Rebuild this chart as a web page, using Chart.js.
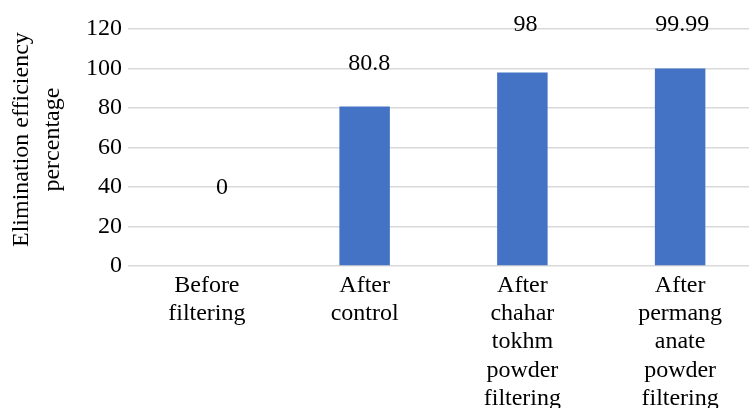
<!DOCTYPE html>
<html>
<head>
<meta charset="utf-8">
<script src="https://cdn.jsdelivr.net/npm/chart.js@4.4.0/dist/chart.umd.min.js"></script>
<style>
  html, body { margin: 0; padding: 0; background: #fff; overflow: hidden; font-family: "Liberation Serif", serif; }
  #wrap { width: 749px; height: 408px; overflow: hidden; position: relative; }
  #box { width: 759px; height: 408px; position: absolute; left: 0; top: 0; }
  #pre { position: absolute; left: -9999px; font-family: "Liberation Serif"; }
</style>
</head>
<body>
<div id="pre">Elimination 0123456789</div>
<div id="wrap"><div id="box"><canvas id="c"></canvas></div></div>
<script>
const categories = [
  ["Before", "filtering"],
  ["After", "control"],
  ["After", "chahar", "tokhm", "powder", "filtering"],
  ["After", "permang", "anate", "powder", "filtering"]
];
const efficiency = [0, 80.8, 98, 99.99];
const valueLabels = ["0", "80.8", "98", "99.99"];
const yTicks = [0, 20, 40, 60, 80, 100, 120];
const yTitle = ["Elimination efficiency", "percentage"];

const FONT = "'Liberation Serif', serif";

const labelPlugin = {
  id: 'valueLabels',
  afterDatasetsDraw(chart, args, opts) {
    const ctx = chart.ctx;
    const meta = chart.getDatasetMeta(0);
    const y = chart.scales.y;
    ctx.save();
    ctx.font = opts.size + 'px ' + FONT;
    ctx.fillStyle = '#000';
    ctx.textAlign = 'center';
    ctx.textBaseline = 'middle';
    meta.data.forEach((bar, i) => {
      ctx.fillText(valueLabels[i], bar.x + opts.dx[i], y.getPixelForValue(opts.at[i]));
    });
    ctx.restore();
  }
};

const yTitlePlugin = {
  id: 'yTitle',
  afterDraw(chart, args, opts) {
    const ctx = chart.ctx;
    const y = chart.scales.y;
    ctx.save();
    ctx.font = opts.size + 'px ' + FONT;
    ctx.fillStyle = '#000';
    ctx.textAlign = 'center';
    ctx.textBaseline = 'middle';
    const cy = y.getPixelForValue(opts.centerValue);
    yTitle.forEach((line, i) => {
      ctx.save();
      ctx.translate(opts.x0 + i * opts.lineGap, cy);
      ctx.rotate(-Math.PI / 2);
      ctx.fillText(line, 0, 0);
      ctx.restore();
    });
    ctx.restore();
  }
};

function draw() {
  new Chart(document.getElementById('c'), {
    type: 'bar',
    data: {
      labels: categories,
      datasets: [{
        data: efficiency,
        backgroundColor: '#4472C4',
        borderWidth: 0,
        barPercentage: 0.32,
        categoryPercentage: 1.0
      }]
    },
    options: {
      responsive: true,
      maintainAspectRatio: false,
      animation: false,
      devicePixelRatio: 1,
      layout: { padding: { top: 29, left: 0, right: 0, bottom: 0 } },
      plugins: {
        legend: { display: false },
        tooltip: { enabled: false },
        valueLabels: {
          size: 24,
          at: [39.5, 102.5, 122, 122],
          dx: [15, 4.5, 3, 2]
        },
        yTitle: { size: 24, x0: 22, lineGap: 31, centerValue: 64 }
      },
      scales: {
        x: {
          grid: { display: false, drawTicks: false },
          border: { display: false },
          ticks: {
            color: '#000',
            font: { family: FONT, size: 24, lineHeight: 1.17 },
            padding: 6,
            maxRotation: 0,
            minRotation: 0,
            autoSkip: false
          },
          afterFit(scale) { scale.height = 142; }
        },
        y: {
          min: 0,
          max: 120,
          afterBuildTicks(scale) { scale.ticks = yTicks.map(v => ({ value: v })); },
          grid: { color: '#d9d9d9', lineWidth: 1.5, drawTicks: false },
          border: { display: false },
          ticks: {
            color: '#000',
            font: { family: FONT, size: 24 },
            padding: 6
          },
          title: { display: false },
          afterFit(scale) { scale.width = 128; }
        }
      }
    },
    plugins: [labelPlugin, yTitlePlugin]
  });
}

if (document.fonts && document.fonts.load) {
  document.fonts.load("24px 'Liberation Serif'").then(draw, draw);
} else {
  draw();
}
</script>
</body>
</html>
